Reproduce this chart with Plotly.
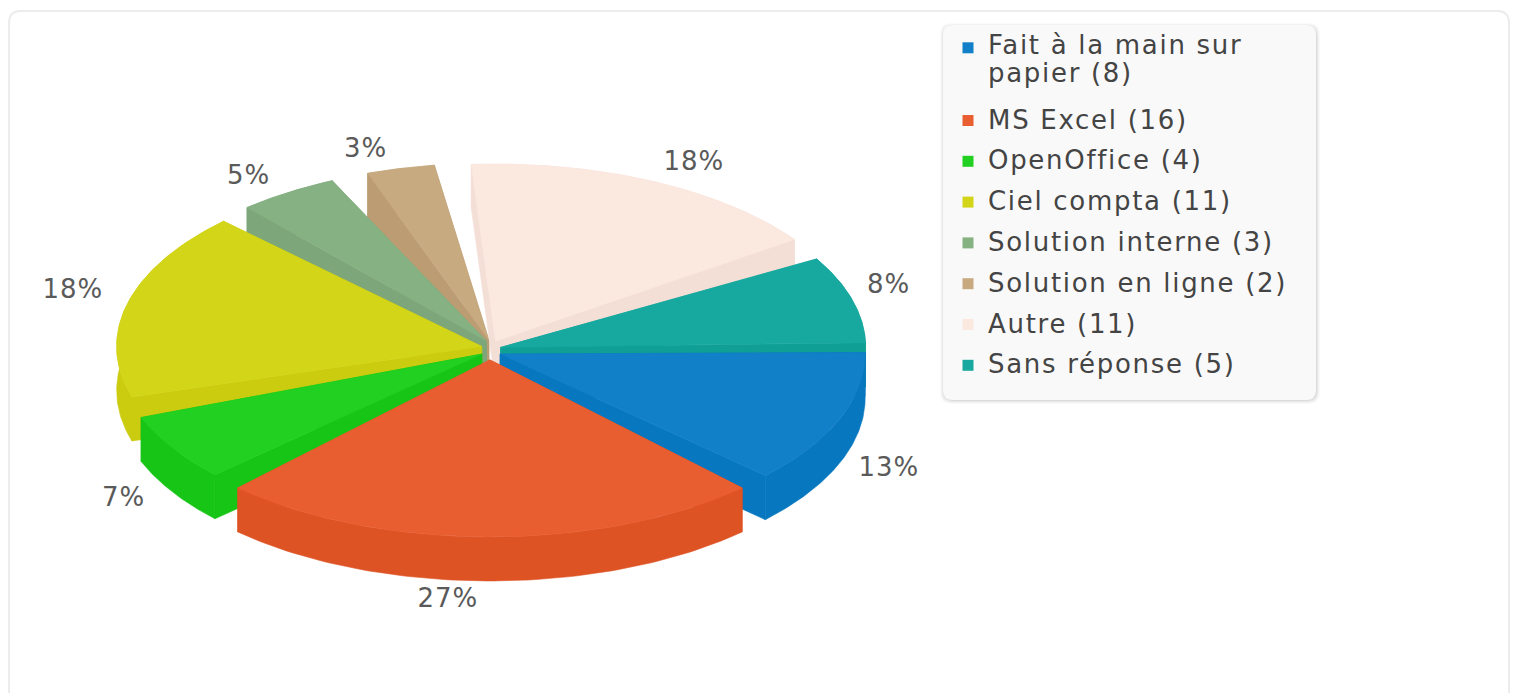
import numpy as np
import plotly.graph_objects as go

# --- data ---
labels = ["Fait à la main sur<br>papier (8)", "MS Excel (16)", "OpenOffice (4)", "Ciel compta (11)",
          "Solution interne (3)", "Solution en ligne (2)", "Autre (11)", "Sans réponse (5)"]
counts = [8, 16, 4, 11, 3, 2, 11, 5]
pct_text = ["13%", "27%", "7%", "18%", "5%", "3%", "18%", "8%"]

# --- style ---
top_colors = ["#1180c8", "#e95e30", "#21d021", "#d3d518", "#86b183", "#c8aa80", "#fbe8df", "#17a9a0"]
side_colors = ["#0777bf", "#de5324", "#17c517", "#cbcb0f", "#7da67a", "#bc9d73", "#f4dfd6", "#109f95"]
CX, CY, RX, RY, DEPTH, EXPLODE = 491, 350, 365, 177, 44, 10
# perspective calibration: data angle -> ellipse parameter (degrees), and gap opening at each boundary
KNOT_IN = [0, 48, 144, 168, 234, 252, 264, 330, 360]
KNOT_OUT = [-0.5, 44.85, 135.35, 161.2, 227, 247.8, 263.8, 327.5, 358.5]
KNOT_GAP = [0, 2.9, 3.3, 4.4, 4, 5.6, 4.8, 5, 0]
LABEL_RX, LABEL_RY = 425, 245
label_nudge = [(10, 17), (1, 4), (21, 47), (-21, 27), (-50, 43), (-37, 38), (10, 29), (-13, -3)]

fig = go.Figure()
total = sum(counts)
edges = np.cumsum([0] + counts) / total * 360
mids = (edges[:-1] + edges[1:]) / 2


def face(xs, ys, color, name):
    fig.add_trace(go.Scatter(x=list(xs) + [xs[0]], y=list(ys) + [ys[0]], mode="lines", fill="toself",
                             fillcolor=color, line=dict(color=color, width=0.6), showlegend=False,
                             hoverinfo="text", text=name))


order = np.argsort(np.sin(np.radians(mids)))
for i in order:
    name = labels[i].replace("<br>", " ")
    ax = CX + EXPLODE * np.cos(np.radians(mids[i]))
    ay = CY + EXPLODE * np.sin(np.radians(mids[i]))
    p0 = np.interp(edges[i], KNOT_IN, KNOT_OUT) + np.interp(edges[i], KNOT_IN, KNOT_GAP) / 2
    p1 = np.interp(edges[i + 1], KNOT_IN, KNOT_OUT) - np.interp(edges[i + 1], KNOT_IN, KNOT_GAP) / 2
    ph = np.radians(np.linspace(p0, p1, 80))
    ax_r = ax + RX * np.cos(ph)
    ay_r = ay + RY * np.sin(ph)
    # side walls
    for k in (0, -1):
        face([ax, ax_r[k], ax_r[k], ax], [ay, ay_r[k], ay_r[k] + DEPTH, ay + DEPTH], side_colors[i], name)
    # outer wall
    face(np.r_[ax_r, ax_r[::-1]], np.r_[ay_r, (ay_r + DEPTH)[::-1]], side_colors[i], name)
    # top
    face(np.r_[ax, ax_r], np.r_[ay, ay_r], top_colors[i], name)

# legend entries
for lab, col in zip(labels, top_colors):
    fig.add_trace(go.Scatter(x=[None], y=[None], mode="markers", name=lab, legendgroup=lab,
                             marker=dict(symbol="square", size=11, color=col)))

# percentage labels
annotations = []
for m, txt, (nx, ny) in zip(mids, pct_text, label_nudge):
    annotations.append(dict(x=CX + LABEL_RX * np.cos(np.radians(m)) + nx,
                            y=CY + LABEL_RY * np.sin(np.radians(m)) + ny,
                            text=txt, showarrow=False, xanchor="center", yanchor="middle",
                            font=dict(family="DejaVu Sans", size=26, color="#5a5a5a")))


def rrect(x0, y0, x1, y1, r):
    return (f"M{x0+r},{y0} L{x1-r},{y0} Q{x1},{y0} {x1},{y0+r} L{x1},{y1-r} Q{x1},{y1} {x1-r},{y1} "
            f"L{x0+r},{y1} Q{x0},{y1} {x0},{y1-r} L{x0},{y0+r} Q{x0},{y0} {x0+r},{y0} Z")


shapes = [dict(type="path", path=rrect(9, 11, 1509, 705, 12), line=dict(color="#ececec", width=2),
               fillcolor="white", layer="below")]
for off, op in ((4, 0.02), (3, 0.03), (2, 0.04), (1, 0.05)):
    shapes.append(dict(type="path", path=rrect(943 - off + 1, 25 - off + 2, 1316 + off, 400 + off, 11),
                       line=dict(width=0), fillcolor=f"rgba(0,0,0,{op})", layer="below"))
shapes.append(dict(type="path", path=rrect(943, 25, 1316, 400, 10), line=dict(width=0),
                   fillcolor="#f9f9f9", layer="below"))

fig.update_layout(
    width=1513, height=693, margin=dict(l=0, r=0, t=0, b=0),
    paper_bgcolor="white", plot_bgcolor="white",
    xaxis=dict(range=[0, 1513], visible=False, fixedrange=True),
    yaxis=dict(range=[693, 0], visible=False, fixedrange=True),
    shapes=shapes, annotations=annotations,
    legend=dict(x=948 / 1513, y=1 - 20.5 / 693, xanchor="left", yanchor="top", bgcolor="rgba(0,0,0,0)",
                font=dict(family="DejaVu Sans", size=26, color="#444444"), tracegroupgap=4,
                entrywidth=320, entrywidthmode="pixels",
                itemclick=False, itemdoubleclick=False),
    showlegend=True,
)

post = """
document.body.style.margin = '0';
var st = document.createElement('style');
st.textContent = '.legendtext{letter-spacing:1.7px} .annotation-text{letter-spacing:1px}';
document.head.appendChild(st);
var sb = document.querySelector('.legend .scrollbox');
if (sb) { sb.removeAttribute('clip-path'); sb.style.clipPath = 'none'; }
document.querySelectorAll('.legend .traces').forEach(function (g, idx) {
  var sym = g.querySelector('.legendsymbols');
  if (idx === 0) {
    var lines = g.querySelectorAll('.legendtext tspan.line');
    if (lines.length > 1) { lines[1].setAttribute('dy', '1.08em'); }
    if (sym) { sym.setAttribute('transform', 'translate(0,-13)'); }
  } else if (sym) {
    sym.setAttribute('transform', 'translate(0,2)');
  }
});
"""
fig.write_html("out.html", post_script=post, config={"displayModeBar": False})
